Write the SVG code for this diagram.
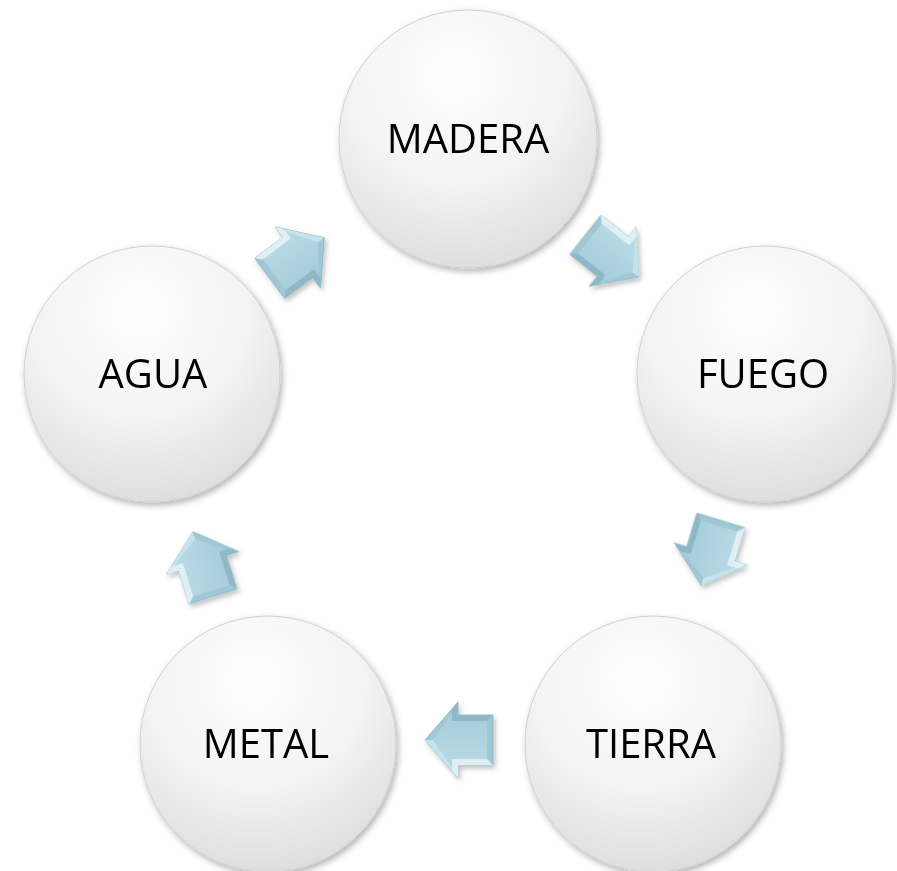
<svg xmlns="http://www.w3.org/2000/svg" width="897" height="871" viewBox="0 0 897 871">
<defs>
<radialGradient id="cg" cx="0.45" cy="0.25" r="0.85">
<stop offset="0" stop-color="#ffffff"/>
<stop offset="0.5" stop-color="#f3f3f3"/>
<stop offset="1" stop-color="#d8d8d8"/>
</radialGradient>
<linearGradient id="ag" x1="0" y1="0" x2="0" y2="1">
<stop offset="0" stop-color="#b8dae5"/>
<stop offset="1" stop-color="#a5cddb"/>
</linearGradient>
<filter id="sh" x="-20%" y="-20%" width="140%" height="140%">
<feDropShadow dx="2" dy="3" stdDeviation="3" flood-color="#000" flood-opacity="0.3"/>
</filter>
<filter id="ash" x="-30%" y="-30%" width="160%" height="160%">
<feDropShadow dx="2" dy="3" stdDeviation="2.5" flood-color="#000" flood-opacity="0.25"/>
</filter>
<g id="arr">
<polygon points="-34,-25 1,-25 1,-38 34,0 1,38 1,25 -34,25" fill="#9fc7d5" stroke="#8ab4c3" stroke-width="0.8"/>
<polygon points="-34,-25 1,-25 1,-38 7,-31 7,-19 -28,-19" fill="#dff0f5"/>
<polygon points="1,-38 34,0 26,0 7,-27 7,-31" fill="#c6e3ec"/>
<polygon points="1,38 7,31 7,19 -28,19 -34,25 1,25" fill="#8fb8c7"/>
<polygon points="-28,-19 7,-19 7,-27 26,0 7,27 7,19 -28,19" fill="url(#ag)"/>
</g>
</defs>
<style>
.c{fill:url(#cg);stroke:#d0d0d0;stroke-width:1;filter:url(#sh)}
.t{font-family:"Open Sans","Liberation Sans",sans-serif;font-size:40px;fill:#000;text-anchor:middle}
</style>
<rect width="897" height="871" fill="#ffffff"/>
<g id="connectors" filter="url(#ash)">
<use href="#arr" transform="translate(297,258) rotate(-36.6)"/>
<use href="#arr" transform="translate(612,256) rotate(38.4)"/>
<use href="#arr" transform="translate(711,553) rotate(106.8)"/>
<use href="#arr" transform="translate(459,740) rotate(180)"/>
<use href="#arr" transform="translate(203,564) rotate(-107.4)"/>
</g>
<g id="madera"><circle class="c" cx="468" cy="139" r="129"/><text class="t" x="468" y="153">MADERA</text></g>
<g id="fuego"><circle class="c" cx="765" cy="374" r="128"/><text class="t" x="763" y="388">FUEGO</text></g>
<g id="tierra"><circle class="c" cx="653" cy="744" r="128"/><text class="t" x="651" y="758">TIERRA</text></g>
<g id="metal"><circle class="c" cx="268" cy="744" r="128"/><text class="t" x="266" y="758">METAL</text></g>
<g id="agua"><circle class="c" cx="152" cy="374" r="128"/><text class="t" x="153" y="388">AGUA</text></g>
</svg>
